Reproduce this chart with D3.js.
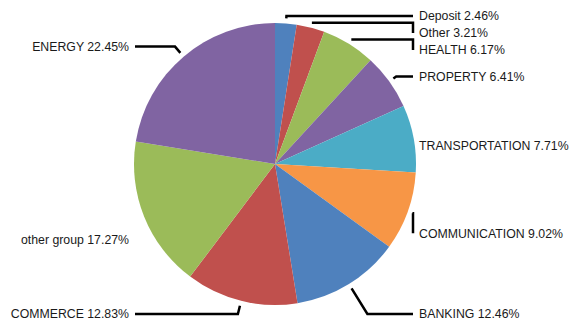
<!DOCTYPE html>
<html>
<head>
<meta charset="utf-8">
<script src="https://cdn.jsdelivr.net/npm/d3@7"></script>
<style>
  body { margin: 0; background: #fff; }
  svg { display: block; }
</style>
</head>
<body>
<div id="chart"></div>
<script>
const categories = ["Deposit", "Other", "HEALTH", "PROPERTY", "TRANSPORTATION",
  "COMMUNICATION", "BANKING", "COMMERCE", "other group", "ENERGY"]
const shares = [2.46, 3.21, 6.17, 6.41, 7.71, 9.02, 12.46, 12.83, 17.27, 22.45]
const palette = ["#4f81bd", "#c0504d", "#9bbb59", "#8064a2", "#4bacc6", "#f79646"]

function drawPieChart() {
  const textColor = "#1a1a1a"

  let dimensions = {
    width: 571,
    height: 320,
    cx: 275,
    cy: 164,
    radius: 141,
  }
  const labelGap = 17
  const labelTop = 16
  const labelBottom = 314
  const rightEdge = dimensions.cx + dimensions.radius - 3
  const leftEdge = dimensions.cx - dimensions.radius + 1

  const dataset = categories.map((name, i) => ({ name, value: shares[i] }))

  const wrapper = d3.select("#chart")
    .append("svg")
      .attr("width", dimensions.width)
      .attr("height", dimensions.height)

  const bounds = wrapper.append("g")
    .attr("transform", `translate(${dimensions.cx}, ${dimensions.cy})`)

  const colorScale = d3.scaleOrdinal()
    .domain(d3.range(dataset.length))
    .range(palette)

  const pie = d3.pie()
    .sort(null)
    .value(d => d.value)
  const arcs = pie(dataset)

  const arcGenerator = d3.arc()
    .innerRadius(0)
    .outerRadius(dimensions.radius)

  bounds.selectAll(".slice")
    .data(arcs)
    .join("path")
      .attr("class", "slice")
      .attr("d", arcGenerator)
      .attr("fill", (d, i) => colorScale(i))

  // label placement: ideal height from the slice angle, then spread apart
  const mid = d => (d.startAngle + d.endAngle) / 2
  const labels = arcs.map(d => {
    const a = mid(d)
    return {
      arc: d,
      angle: a,
      right: a < Math.PI,
      y: 12 - (dimensions.radius + 29) * Math.cos(a),
    }
  })

  const spread = group => {
    group.sort((a, b) => a.y - b.y)
    const top = labelTop - dimensions.cy
    const bottom = labelBottom - dimensions.cy
    group.forEach((l, i) => {
      l.y = Math.max(l.y, top, i ? group[i - 1].y + labelGap : top)
    })
    for (let i = group.length - 1; i >= 0; i--) {
      const limit = i < group.length - 1 ? group[i + 1].y - labelGap : bottom
      group[i].y = Math.min(group[i].y, limit, bottom)
    }
  }
  spread(labels.filter(l => l.right))
  spread(labels.filter(l => !l.right))

  // connectors (skipped when the label already sits next to its slice)
  const lineGenerator = d3.line()
  labels.forEach(l => {
    const sin = Math.sin(l.angle)
    const cos = Math.cos(l.angle)
    const r0 = dimensions.radius + 5
    const p0 = [r0 * sin, -r0 * cos]
    const edge = (l.right ? rightEdge : leftEdge) - dimensions.cx
    const run = l.right ? edge - p0[0] : p0[0] - edge
    if (run < 0) return
    const r1 = -l.y / cos
    const p1 = [r1 * sin, l.y]
    let points
    if (r1 > r0 && (l.right ? p1[0] < edge : p1[0] > edge)) {
      points = [p0, p1, [edge, l.y]]
    } else {
      if (run > 1.5 && run < 8) return
      points = [p0, [edge, p0[1]], [edge, l.y]]
    }
    bounds.append("path")
      .attr("d", lineGenerator(points))
      .attr("fill", "none")
      .attr("stroke", "#000")
      .attr("stroke-width", 2.5)
  })

  bounds.selectAll(".label")
    .data(labels)
    .join("text")
      .attr("class", "label")
      .attr("x", l => l.right ? rightEdge - dimensions.cx + 6 : leftEdge - dimensions.cx - 6)
      .attr("y", l => l.y)
      .attr("dy", "0.35em")
      .attr("text-anchor", l => l.right ? "start" : "end")
      .style("font-family", "'Liberation Sans', Arial, Helvetica, sans-serif")
      .style("font-size", "12.3px")
      .style("fill", textColor)
      .text(l => `${l.arc.data.name} ${l.arc.data.value.toFixed(2)}%`)
}

drawPieChart()
</script>
</body>
</html>
